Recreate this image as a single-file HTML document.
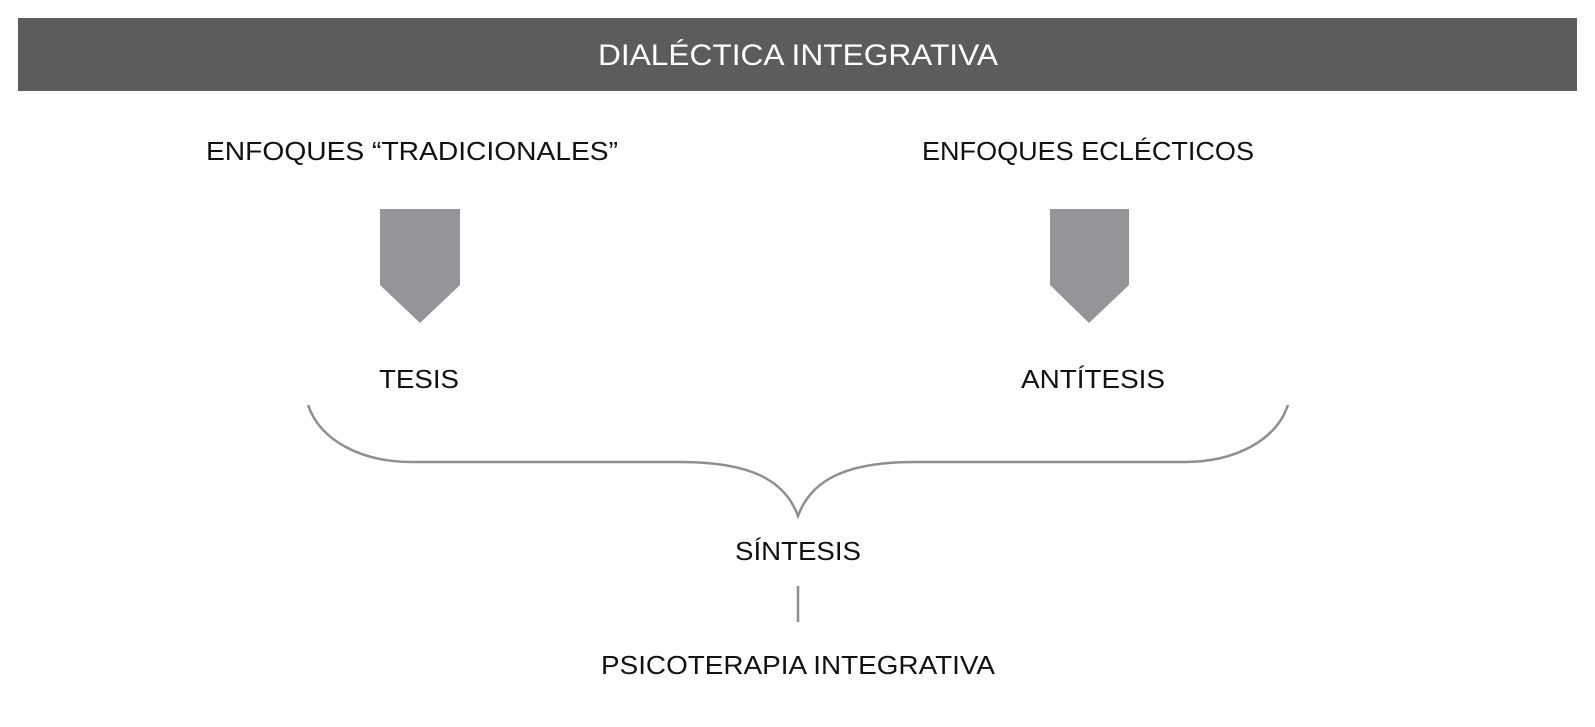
<!DOCTYPE html>
<html><head><meta charset="utf-8"><style>
html,body{margin:0;padding:0;background:#fff;}
svg{display:block;}
text{font-family:"Liberation Sans",sans-serif;}
</style></head><body>
<svg width="1595" height="727" viewBox="0 0 1595 727" xmlns="http://www.w3.org/2000/svg">
<rect x="18" y="18" width="1559" height="73" fill="#5b5c5e"/>
<text x="798" y="65" text-anchor="middle" font-size="30" fill="#fff" textLength="400" lengthAdjust="spacingAndGlyphs">DIALÉCTICA INTEGRATIVA</text>
<text x="412" y="160" text-anchor="middle" font-size="26" fill="#111" textLength="412" lengthAdjust="spacingAndGlyphs">ENFOQUES “TRADICIONALES”</text>
<text x="1088" y="160" text-anchor="middle" font-size="26" fill="#111" textLength="332" lengthAdjust="spacingAndGlyphs">ENFOQUES ECLÉCTICOS</text>
<polygon points="380,209 460,209 460,285 420,323 380,285" fill="#949598"/>
<polygon points="1050,209 1129,209 1129,285 1089,323 1050,285" fill="#949598"/>
<text x="419" y="388" text-anchor="middle" font-size="26" fill="#111" textLength="80" lengthAdjust="spacingAndGlyphs">TESIS</text>
<text x="1093" y="388" text-anchor="middle" font-size="26" fill="#111" textLength="144" lengthAdjust="spacingAndGlyphs">ANTÍTESIS</text>
<path d="M308,405 C320,440 360,462 412,462 L681,462 C750,462 785,480 798,516 C811,480 846,462 915,462 L1184,462 C1236,462 1276,440 1288,405" fill="none" stroke="#8e8f91" stroke-width="2.5"/>
<text x="798" y="560" text-anchor="middle" font-size="26" fill="#111" textLength="126" lengthAdjust="spacingAndGlyphs">SÍNTESIS</text>
<line x1="798" y1="586" x2="798" y2="622" stroke="#8e8f91" stroke-width="2.5"/>
<text x="798" y="674" text-anchor="middle" font-size="26" fill="#111" textLength="394" lengthAdjust="spacingAndGlyphs">PSICOTERAPIA INTEGRATIVA</text>
</svg>
</body></html>
